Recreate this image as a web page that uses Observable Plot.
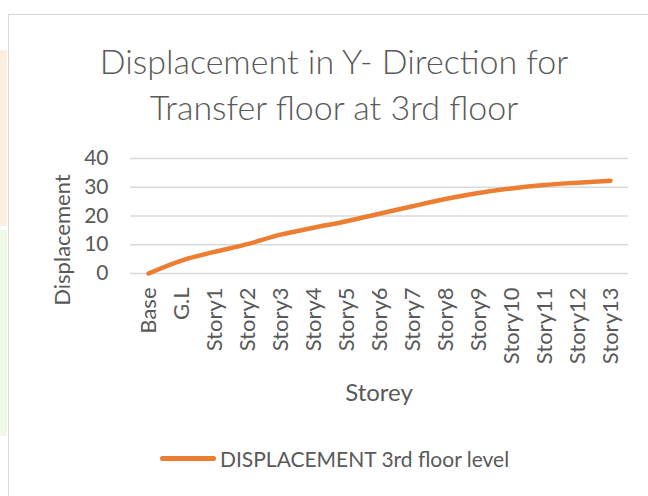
<!DOCTYPE html>
<html><head><meta charset="utf-8">
<script src="https://cdn.jsdelivr.net/npm/d3@7"></script>
<script src="https://cdn.jsdelivr.net/npm/@observablehq/plot@0.6"></script>
<style>
html,body{margin:0;padding:0;background:#fff;}
#wrap{position:relative;width:648px;height:496px;overflow:hidden;background:#fff;font-family:Lato,"Open Sans",sans-serif;color:#595959;}
.abs{position:absolute;}
</style></head>
<body><div id="wrap">
<div class="abs" style="left:0;top:50px;width:7px;height:176px;background:#fdeee2"></div>
<div class="abs" style="left:0;top:230px;width:7px;height:206px;background:#f1f9e6"></div>
<div class="abs" style="left:8px;top:14px;width:700px;height:520px;border:1.5px solid #d9d9d9;box-sizing:border-box"></div>
<div id="title" class="abs" style="left:0;width:668px;top:38px;text-align:center;font-size:34px;line-height:46px;font-weight:300;"></div>
<div id="ylabel" class="abs" style="left:61px;top:240px;font-size:22px;white-space:nowrap;transform:translate(-50%,-50%) rotate(-90deg);"></div>
<div id="chart" class="abs" style="left:0;top:140px;"></div>
<div id="xlabel" class="abs" style="left:0;width:758px;top:377px;text-align:center;font-size:24px;"></div>
<div id="legend" class="abs" style="left:160px;top:446px;font-size:21px;display:flex;align-items:center;"></div>
</div>
<script>
const titleLines = ["Displacement in Y- Direction for", "Transfer floor at 3rd floor"];
const categories = ["Base","G.L","Story1","Story2","Story3","Story4","Story5","Story6","Story7","Story8","Story9","Story10","Story11","Story12","Story13"];
const values = [0, 4.5, 7.5, 10.2, 13.5, 15.9, 18.2, 20.8, 23.4, 25.9, 28.0, 29.6, 30.8, 31.6, 32.3];
const yTicks = [0, 10, 20, 30, 40];
const yLabel = "Displacement";
const xLabel = "Storey";
const seriesName = "DISPLACEMENT 3rd floor level";
const color = "#ED7D31";

document.getElementById("title").innerHTML = titleLines.join("<br>");
document.getElementById("ylabel").textContent = yLabel;
document.getElementById("xlabel").textContent = xLabel;
document.getElementById("legend").innerHTML =
  `<span style="display:inline-block;width:56px;height:5px;border-radius:3px;background:${color};margin-right:4px"></span><span>${seriesName}</span>`;

const data = categories.map((c, i) => ({cat: c, v: values[i]}));

const chart = Plot.plot({
  width: 648,
  height: 270,
  marginLeft: 130,
  marginRight: 20,
  marginTop: 18,
  marginBottom: 137,
  style: {fontFamily: "Lato, 'Open Sans', sans-serif", color: "#595959", background: "transparent"},
  x: {type: "point", domain: categories, padding: 0.5},
  y: {domain: [0, 40]},
  marks: [
    Plot.gridY(yTicks, {stroke: "#d9d9d9", strokeOpacity: 1, strokeWidth: 1.5}),
    Plot.axisY(yTicks, {tickSize: 0, tickPadding: 22, fontSize: 21, label: null}),
    Plot.axisX({tickSize: 0, tickRotate: -90, tickPadding: 14, fontSize: 22, label: null}),
    Plot.lineY(data, {x: "cat", y: "v", stroke: color, strokeWidth: 4.5, curve: "monotone-x", strokeLinecap: "round", strokeLinejoin: "round"})
  ]
});
document.getElementById("chart").appendChild(chart);
</script>
</body></html>
